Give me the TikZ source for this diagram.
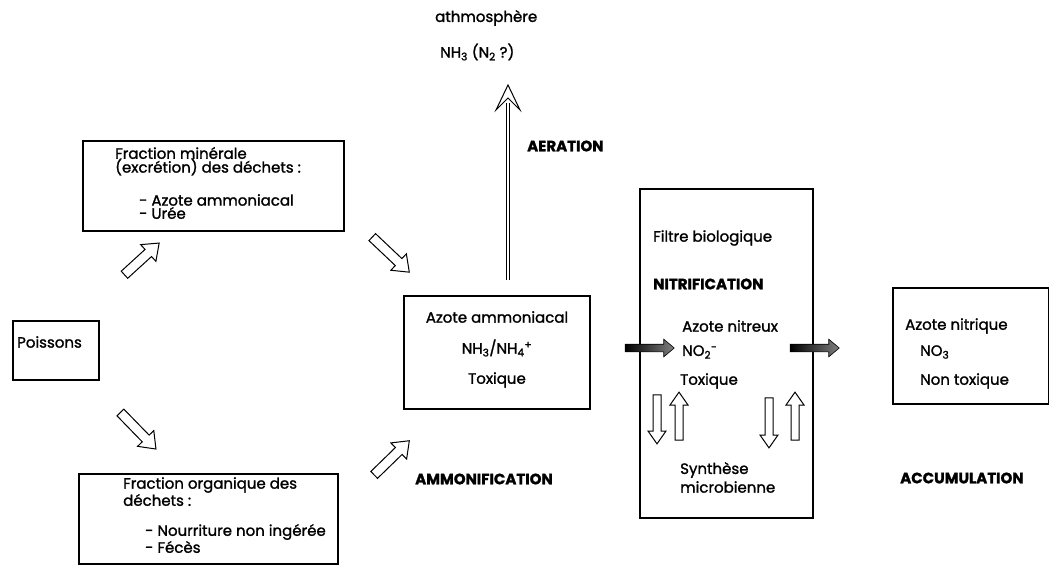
\documentclass[tikz,border=0pt]{standalone}
\usepackage{fontspec}
\setmainfont{Poppins}[FakeBold=1.4]
\usetikzlibrary{shapes.arrows}
\tikzset{
  box/.style={draw, line width=1.8pt, inner sep=0pt, anchor=north west},
  txt/.style={anchor=west, inner sep=0pt, font=\fontsize{15}{15}\selectfont},
  btxt/.style={txt, font=\fontsize{15}{15}\selectfont\bfseries},
  hollow/.style={single arrow, draw, fill=white, line width=1pt, inner xsep=0pt, inner ysep=4.3pt,
     single arrow head extend=6.5pt, single arrow tip angle=75, minimum height=#1},
  darkarrow/.style={single arrow, draw, line width=0.6pt, left color=black, right color=black!50, inner xsep=0pt, inner ysep=3.5pt,
     single arrow head extend=5pt, single arrow tip angle=80, minimum height=#1},
  updown/.style={single arrow, draw, fill=white, line width=1pt, inner xsep=0pt, inner ysep=3.5pt,
     single arrow head extend=5pt, single arrow tip angle=70, minimum height=#1}
}
\begin{document}
\begin{tikzpicture}[x=1pt,y=-1pt]
\useasboundingbox (0,0) rectangle (1049,565);
% boxes
\node[box, minimum width=261, minimum height=90] (min) at (82,140) {};
\node[box, minimum width=86, minimum height=59] (poi) at (12,320) {};
\node[box, minimum width=259, minimum height=90] (org) at (78,473) {};
\node[box, minimum width=186, minimum height=113] (amm) at (403,295) {};
\node[box, minimum width=173, minimum height=329] (fil) at (639,188) {};
\node[box, minimum width=156, minimum height=116] (nit) at (892,287) {};
% texts
\node[txt] (t1) at (435,18) {athmosphère};
\node[txt] (t2) at (440,52) {NH\textsubscript{3} (N\textsubscript{2} ?)};
\node[btxt] (t3) at (527,146) {AERATION};
\node[txt] (m1) at (115,153) {Fraction minérale};
\node[txt] (m2) at (115,167) {(excrétion) des déchets :};
\node[txt] (m3) at (139,200) {- Azote ammoniacal};
\node[txt] (m4) at (139,213) {- Urée};
\node[txt] (p1) at (17,342) {Poissons};
\node[txt] (o1) at (123,485) {Fraction organique des};
\node[txt] (o2) at (123,500) {déchets :};
\node[txt] (o3) at (145,532) {- Nourriture non ingérée};
\node[txt] (o4) at (145,547) {- Fécès};
\node[txt, anchor=center] (a1) at (497,317) {Azote ammoniacal};
\node[txt, anchor=center] (a2) at (497,348) {NH\textsubscript{3}/NH\textsubscript{4}\textsuperscript{+}};
\node[txt, anchor=center] (a3) at (497,380) {Toxique};
\node[txt] (f1) at (653,238) {Filtre biologique};
\node[btxt] (f2) at (653,284) {NITRIFICATION};
\node[txt] (f3) at (682,326) {Azote nitreux};
\node[txt] (f4) at (682,352) {NO\textsubscript{2}\textsuperscript{-}};
\node[txt] (f5) at (680,381) {Toxique};
\node[txt] (f6) at (680,470) {Synthèse};
\node[txt] (f7) at (680,487) {microbienne};
\node[txt] (n1) at (905,326) {Azote nitrique};
\node[txt] (n2) at (920,352) {NO\textsubscript{3}};
\node[txt] (n3) at (920,381) {Non toxique};
\node[btxt] (acc) at (900,478) {ACCUMULATION};
\node[btxt] (ammo) at (415,479) {AMMONIFICATION};
% hollow block arrows
\node[hollow=47, rotate=42.4] (h1) at (139.5,261) {};
\node[hollow=51, rotate=-43.4] (h2) at (388.5,252.5) {};
\node[hollow=51, rotate=-45.8] (h3) at (136,428.5) {};
\node[hollow=49, rotate=44.2] (h4) at (389.5,460) {};
% dark arrows
\node[darkarrow=49] (d1) at (647.5,348) {};
\node[darkarrow=49] (d2) at (812.5,348) {};
% up/down arrows
\node[updown=49, rotate=-90] (u1) at (657,416.5) {};
\node[updown=48, rotate=90] (u2) at (679,419) {};
\node[updown=50, rotate=-90] (u3) at (769,420) {};
\node[updown=48, rotate=90] (u4) at (795,419) {};
% aeration arrow
\coordinate (ab) at (508,280);
\coordinate (at) at (508,103);
\draw[line width=0.8pt, double, double distance=2.6pt] (ab) -- (at);
\draw[line width=1pt, fill=white, line join=miter] (496,110) -- (508,85) -- (520,110) -- (508,98) -- cycle;
\end{tikzpicture}
\end{document}
